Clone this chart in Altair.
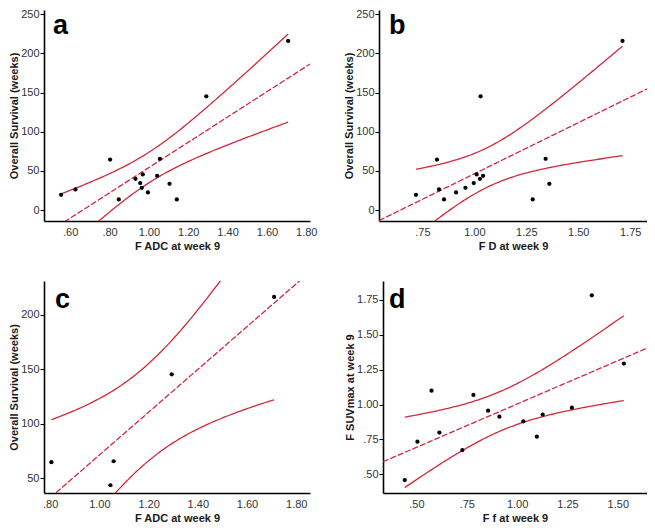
import altair as alt
import numpy as np
import pandas as pd

# ---------------- data ----------------
a_x = [0.554, 0.627, 0.803, 0.847, 0.932, 0.956, 0.969, 0.964, 0.995, 1.042, 1.056, 1.105, 1.142, 1.292, 1.708]
a_y = [19.5, 26.3, 64.5, 13.6, 39.9, 34.4, 45.4, 28.4, 22.5, 43.7, 65.4, 33.5, 13.6, 145.2, 216.0]

b_x = [0.719, 0.830, 0.820, 0.854, 0.912, 0.957, 0.997, 1.011, 1.027, 1.042, 1.030, 1.281, 1.343, 1.361, 1.713]
b_y = [19.5, 26.3, 64.5, 13.6, 22.5, 28.4, 34.4, 45.4, 39.9, 43.7, 145.2, 13.6, 65.4, 33.5, 216.0]

c_x = [0.805, 1.045, 1.058, 1.294, 1.710]
c_y = [64.7, 43.6, 65.6, 145.3, 216.2]

d_x = [0.442, 0.505, 0.575, 0.614, 0.728, 0.783, 0.856, 0.912, 1.031, 1.098, 1.127, 1.272, 1.371, 1.530]
d_y = [0.459, 0.734, 1.100, 0.799, 0.674, 1.069, 0.956, 0.913, 0.880, 0.770, 0.928, 0.978, 1.783, 1.294]

ticks_a_x = [0.6, 0.8, 1.0, 1.2, 1.4, 1.6, 1.8]
ticks_b_x = [0.75, 1.0, 1.25, 1.5, 1.75]
ticks_c_x = [0.8, 1.0, 1.2, 1.4, 1.6, 1.8]
ticks_d_x = [0.5, 0.75, 1.0, 1.25, 1.5]
ticks_os = [0, 50, 100, 150, 200, 250]
ticks_os_c = [50, 100, 150, 200]
ticks_d_y = [0.5, 0.75, 1.0, 1.25, 1.5, 1.75]

RED = "#cf2a3c"
FONT = "Liberation Sans"
DEC_LABEL = "datum.value < 1 ? replace(format(datum.value, '.2f'), '0.', '.') : format(datum.value, '.2f')"


def fit_frames(xs, ys, tcrit, xdom):
    xs = np.asarray(xs, float)
    ys = np.asarray(ys, float)
    n = len(xs)
    xbar = xs.mean()
    sxx = ((xs - xbar) ** 2).sum()
    b1 = ((xs - xbar) * (ys - ys.mean())).sum() / sxx
    b0 = ys.mean() - b1 * xbar
    s = np.sqrt(((ys - (b0 + b1 * xs)) ** 2).sum() / (n - 2))
    g = np.linspace(xdom[0], xdom[1], 120)
    fit = pd.DataFrame({"x": g, "y": b0 + b1 * g})
    gc = np.linspace(xs.min(), xs.max(), 120)
    se = s * np.sqrt(1.0 / n + (gc - xbar) ** 2 / sxx)
    lo = pd.DataFrame({"x": gc, "y": b0 + b1 * gc - tcrit * se})
    hi = pd.DataFrame({"x": gc, "y": b0 + b1 * gc + tcrit * se})
    return fit, lo, hi


def panel(xs, ys, tcrit, xdom, ydom, xticks, yticks, xtitle, ytitle, ylabel_expr,
          letter, lx, ly, w, h):
    fit, lo, hi = fit_frames(xs, ys, tcrit, xdom)
    pts = pd.DataFrame({"x": xs, "y": ys})
    X = alt.X("x:Q", title=xtitle,
              scale=alt.Scale(domain=xdom, nice=False, zero=False),
              axis=alt.Axis(values=xticks, labelExpr=DEC_LABEL, ticks=False, grid=False,
                            labelPadding=5, titlePadding=3))
    Y = alt.Y("y:Q", title=ytitle,
              scale=alt.Scale(domain=ydom, nice=False, zero=False),
              axis=alt.Axis(values=yticks, labelExpr=ylabel_expr, ticks=True, tickSize=4,
                            grid=False, labelPadding=1, titlePadding=1))
    p = alt.Chart(pts).mark_circle(color="black", size=18, opacity=1).encode(x=X, y=Y)
    f = alt.Chart(fit).mark_line(color=RED, strokeWidth=1.3, strokeDash=[6, 2], clip=True).encode(x=X, y=Y)
    l = alt.Chart(lo).mark_line(color=RED, strokeWidth=1.3, clip=True).encode(x=X, y=Y)
    u = alt.Chart(hi).mark_line(color=RED, strokeWidth=1.3, clip=True).encode(x=X, y=Y)
    t = alt.Chart(pd.DataFrame({"t": [letter]})).mark_text(
        font=FONT, fontSize=27, fontWeight="bold", color="black", align="left", baseline="alphabetic"
    ).encode(text="t:N", x=alt.value(lx), y=alt.value(ly))
    return alt.layer(f, l, u, p, t).properties(width=w, height=h)


INT_LABEL = "format(datum.value, 'd')"

pa = panel(a_x, a_y, 2.160, [0.467, 1.819], [-14, 255.5], ticks_a_x, ticks_os,
           "F ADC at week 9", "Overall Survival (weeks)", INT_LABEL, "a", 9, 24, 266, 211)
pb = panel(b_x, b_y, 2.160, [0.541, 1.831], [-14, 255.5], ticks_b_x, ticks_os,
           "F D at week 9", "Overall Survival (weeks)", INT_LABEL, "b", 10, 24, 268, 211)
pc = panel(c_x, c_y, 3.182, [0.775, 1.856], [36.5, 230.8], ticks_c_x, ticks_os_c,
           "F ADC at week 9", "Overall Survival (weeks)", INT_LABEL, "c", 11, 27, 266, 212)
pd_ = panel(d_x, d_y, 2.179, [0.334, 1.645], [0.366, 1.886], ticks_d_x, ticks_d_y,
            "F f at week 9", "F SUVmax at week 9", DEC_LABEL, "d", 6, 27, 264, 212)

row1 = alt.hconcat(pa, pb, spacing=26)
row2 = alt.hconcat(pc, pd_, spacing=34)

chart = alt.vconcat(row1, row2, spacing=30).properties(padding=0).configure_view(
    stroke=None
).configure_axis(
    domainColor="black", domainWidth=1.6, tickColor="black", tickWidth=1,
    labelFont=FONT, labelFontSize=11, labelColor="#333333",
    titleFont=FONT, titleFontSize=11, titleFontWeight="bold", titleColor="#1a1a1a",
)

chart.save("out.html", embed_options={"renderer": "svg", "actions": False})
